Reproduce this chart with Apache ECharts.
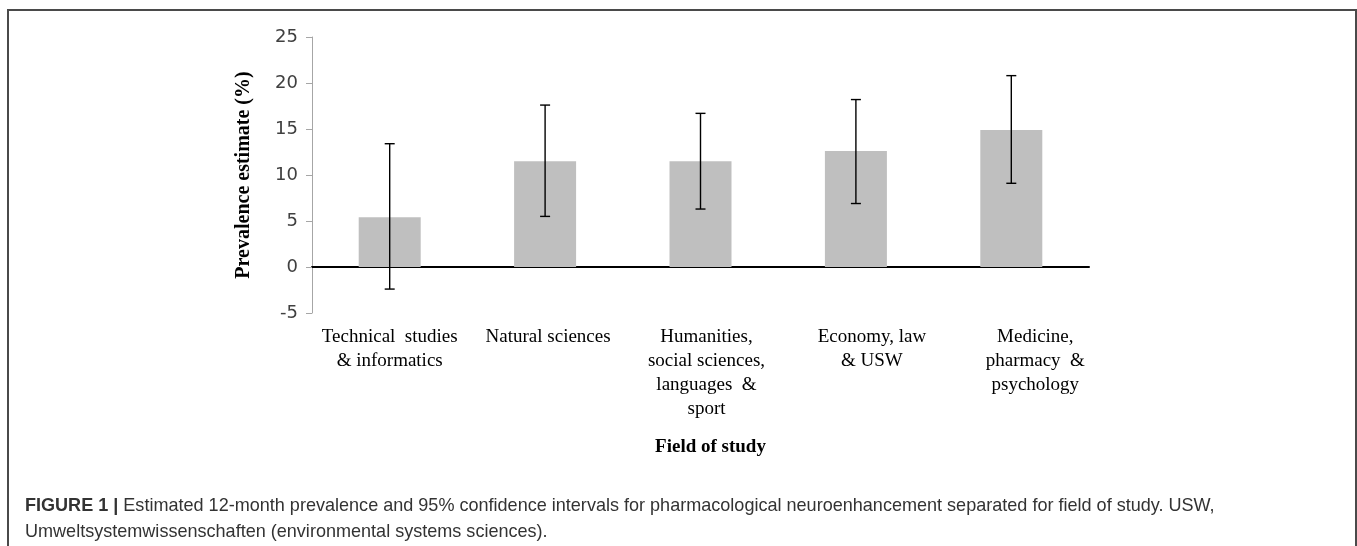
<!DOCTYPE html>
<html>
<head>
<meta charset="utf-8">
<script src="https://cdn.jsdelivr.net/npm/echarts@6/dist/echarts.min.js"></script>
<style>
  html, body { margin: 0; padding: 0; background: #fff; }
  #chart { width: 1357px; height: 546px; }
</style>
</head>
<body>
<div id="chart"></div>
<script>
// categorias (campo de estudo)
const fields = [
    'Technical  studies\n& informatics',
    'Natural sciences',
    'Humanities,\nsocial sciences,\nlanguages  &\nsport',
    'Economy, law\n& USW',
    'Medicine,\npharmacy  &\npsychology'
];
// prevalência estimada (%)
const prevalence = [5.4, 11.5, 11.5, 12.6, 14.9];
// intervalo de confiança 95%
const ciLower = [-2.4, 5.5, 6.3, 6.9, 9.1];
const ciUpper = [13.4, 17.6, 16.7, 18.2, 20.8];

const chart = echarts.init(document.getElementById('chart'));

// o Excel desloca um pouco os rótulos para a direita
const labelShift = [0, 6, 12, 32, 48];

const captionBold = 'FIGURE 1 |';
const captionText = ' Estimated 12-month prevalence and 95% confidence intervals for pharmacological neuroenhancement separated for field of study. USW,\nUmweltsystemwissenschaften (environmental systems sciences).';

const option = {
    backgroundColor: '#fff',
    animation: false,
    grid: { left: 312, right: 268, top: 37, bottom: 233 },
    xAxis: {
        type: 'category',
        data: fields.map((f, i) => ({ value: f, textStyle: { padding: [0, 0, 0, labelShift[i]] } })),
        name: 'Field of study',
        nameLocation: 'middle',
        nameGap: 125,
        nameTextStyle: { fontFamily: 'Liberation Serif', fontWeight: 'bold', fontSize: 19, color: '#000', padding: [0, 0, 0, 20] },
        axisLine: { onZero: true, lineStyle: { color: '#000', width: 2 } },
        axisTick: { show: false },
        axisLabel: {
            margin: 12,
            interval: 0,
            fontFamily: 'Liberation Serif',
            fontSize: 19,
            lineHeight: 24,
            color: '#000'
        }
    },
    yAxis: {
        type: 'value',
        min: -5,
        max: 25,
        interval: 5,
        name: 'Prevalence estimate (%)',
        nameLocation: 'middle',
        nameGap: 58,
        nameRotate: 90,
        nameTextStyle: { fontFamily: 'Liberation Serif', fontWeight: 'bold', fontSize: 20, color: '#000' },
        axisLine: { show: true, lineStyle: { color: '#a6a6a6', width: 1 } },
        axisTick: { show: true, inside: false, length: 6, lineStyle: { color: '#a6a6a6' } },
        splitLine: { show: false },
        axisLabel: { margin: 14, fontFamily: 'DejaVu Sans', fontSize: 18, color: '#404040' }
    },
    series: [{
        type: 'bar',
        data: prevalence,
        barWidth: 62,
        itemStyle: { color: '#bfbfbf' },
        z: 1
    }, {
        type: 'custom',
        data: prevalence.map((v, i) => [i, ciLower[i], ciUpper[i]]),
        z: 5,
        renderItem: (params, api) => {
            const lo = api.coord([api.value(0), api.value(1)]);
            const hi = api.coord([api.value(0), api.value(2)]);
            const cap = 5;
            const style = { stroke: '#000', lineWidth: 1.4 };
            return {
                type: 'group',
                children: [
                    { type: 'line', shape: { x1: lo[0], y1: lo[1], x2: hi[0], y2: hi[1] }, style },
                    { type: 'line', shape: { x1: lo[0] - cap, y1: lo[1], x2: lo[0] + cap, y2: lo[1] }, style },
                    { type: 'line', shape: { x1: hi[0] - cap, y1: hi[1], x2: hi[0] + cap, y2: hi[1] }, style }
                ]
            };
        }
    }],
    graphic: [{
        type: 'rect',
        shape: { x: 8, y: 10, width: 1348, height: 560 },
        style: { fill: 'none', stroke: '#4a4a4a', lineWidth: 2 },
        silent: true
    }, {
        // legenda da figura (fonte um pouco estreita)
        type: 'text',
        x: 25,
        y: 493,
        scaleX: 0.95,
        silent: true,
        style: {
            text: '{b|' + captionBold + '}' + captionText,
            fontFamily: 'Liberation Sans',
            fontSize: 19,
            fill: '#333',
            lineHeight: 26,
            rich: {
                b: { fontFamily: 'Liberation Sans', fontSize: 19, fontWeight: 'bold', fill: '#333', lineHeight: 26 }
            }
        }
    }]
};

chart.setOption(option);
window.addEventListener('resize', () => chart.resize());
</script>
</body>
</html>
